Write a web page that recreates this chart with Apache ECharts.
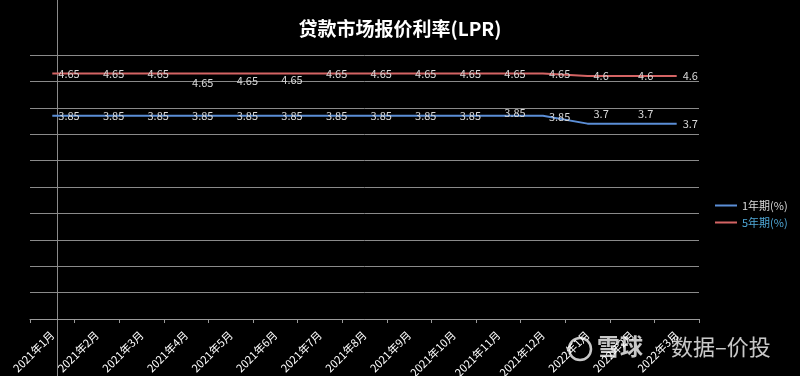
<!DOCTYPE html>
<html>
<head>
<meta charset="utf-8">
<script src="https://cdn.jsdelivr.net/npm/echarts@6/dist/echarts.min.js"></script>
<style>
  html, body { margin: 0; padding: 0; background: #000; }
  #chart { width: 800px; height: 376px; }
</style>
</head>
<body>
<div id="chart"></div>
<script>
// 横坐标月份
const months = ['2021年1月', '2021年2月', '2021年3月', '2021年4月', '2021年5月', '2021年6月',
  '2021年7月', '2021年8月', '2021年9月', '2021年10月', '2021年11月', '2021年12月',
  '2022年1月', '2022年2月', '2022年3月']
// LPR 数据 (%)
const lpr1y = [3.85, 3.85, 3.85, 3.85, 3.85, 3.85, 3.85, 3.85, 3.85, 3.85, 3.85, 3.85, 3.7, 3.7, 3.7]
const lpr5y = [4.65, 4.65, 4.65, 4.65, 4.65, 4.65, 4.65, 4.65, 4.65, 4.65, 4.65, 4.65, 4.6, 4.6, 4.6]

// 个别数据标签的偏移 (原图中标签位置略有错开)
const nudge1y = { 10: [0, -3], 11: [0, 1], 12: [0, -10], 13: [0, -10] }
const nudge5y = { 3: [0, 9], 4: [0, 7], 5: [0, 6] }

function withNudge (values, nudge) {
  return values.map((v, i) => {
    if (!nudge[i]) return v
    return { value: v, label: { offset: nudge[i] } }
  })
}

const font = '"Noto Sans CJK SC", "Noto Sans", sans-serif'
const labelStyle = {
  show: true,
  position: 'right',
  distance: 6,
  color: '#d9d9d9',
  fontSize: 11,
  fontFamily: font
}

const dom = echarts.init(document.getElementById('chart'))
dom.setOption({
  backgroundColor: '#000',
  animation: false,
  title: {
    text: '贷款市场报价利率(LPR)',
    left: 'center',
    top: 14,
    textStyle: { color: '#fff', fontSize: 19, fontWeight: 'bold', fontFamily: font }
  },
  legend: {
    orient: 'vertical',
    left: 710,
    top: 195,
    itemWidth: 22,
    itemHeight: 2,
    itemGap: 6,
    icon: 'rect',
    textStyle: { fontSize: 11, fontFamily: font },
    data: [
      { name: '1年期(%)', textStyle: { color: '#d9d9d9' } },
      { name: '5年期(%)', textStyle: { color: '#4fa8d8' } }
    ]
  },
  grid: { left: 30, right: 101, top: 55, bottom: 57, outerBoundsMode: 'none' },
  xAxis: {
    type: 'category',
    boundaryGap: true,
    data: months,
    axisLine: { lineStyle: { color: '#9a9a9a' } },
    axisTick: { show: true, length: 4, lineStyle: { color: '#9a9a9a' } },
    axisLabel: { rotate: 45, margin: 14, color: '#fff', fontSize: 11, fontFamily: font }
  },
  yAxis: {
    type: 'value',
    min: 0,
    max: 5,
    interval: 0.5,
    axisLine: { show: false },
    axisTick: { show: false },
    axisLabel: { show: false },
    splitLine: { lineStyle: { color: '#8a8a8a', width: 1 } }
  },
  series: [
    {
      name: '1年期(%)',
      type: 'line',
      symbol: 'circle',
      symbolSize: 0,
      data: withNudge(lpr1y, nudge1y),
      itemStyle: { color: '#5b8ed6' },
      lineStyle: { color: '#5b8ed6', width: 2 },
      label: labelStyle
    },
    {
      name: '5年期(%)',
      type: 'line',
      symbol: 'circle',
      symbolSize: 0,
      data: withNudge(lpr5y, nudge5y),
      itemStyle: { color: '#d46464' },
      lineStyle: { color: '#d46464', width: 2 },
      label: labelStyle
    }
  ],
  graphic: [
    // 原图左侧的竖线
    { type: 'line', silent: true, shape: { x1: 57.5, y1: 0, x2: 57.5, y2: 376 },
      style: { stroke: '#8a8a8a', lineWidth: 1 } },
    // 水印
    { type: 'circle', silent: true, shape: { cx: 580, cy: 349, r: 11 },
      style: { fill: 'none', stroke: 'rgba(235,235,235,0.85)', lineWidth: 2.5 } },
    { type: 'text', silent: true, left: 597, top: 335,
      style: { text: '雪球', fill: 'rgba(235,235,235,0.85)', font: 'bold 23px "Noto Sans CJK SC"' } },
    { type: 'text', silent: true, left: 671, top: 336,
      style: { text: '数据–价投', fill: 'rgba(235,235,235,0.85)', font: '22px "Noto Sans CJK SC"' } }
  ]
})
</script>
</body>
</html>
